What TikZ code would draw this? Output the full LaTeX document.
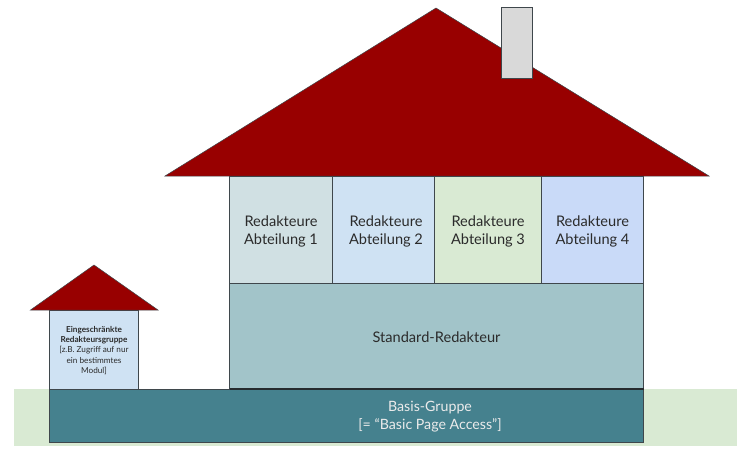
\documentclass[tikz,border=0pt]{standalone}
\usepackage{fontspec}
\setmainfont{Lato}
\definecolor{roof}{HTML}{980000}
\definecolor{edge}{HTML}{3F474C}
\definecolor{grass}{HTML}{D9EAD3}
\definecolor{basec}{HTML}{45818E}
\definecolor{stdc}{HTML}{A2C4C9}
\definecolor{ab1}{HTML}{D0E0E3}
\definecolor{ab2}{HTML}{CFE2F3}
\definecolor{ab4}{HTML}{C9DAF8}
\definecolor{chim}{HTML}{D9D9D9}
\definecolor{txt}{HTML}{2B2B2B}
\tikzset{
  part/.style={draw=edge,line width=0.9pt},
  roofshape/.style={fill=roof,draw=edge,line width=0.5pt,line join=miter},
  lab/.style={text=txt,align=center,font=\fontsize{14.6}{18}\selectfont},
  small/.style={text=txt,align=center,font=\fontsize{8.2}{10.2}\selectfont},
}
\begin{document}
\begin{tikzpicture}[x=1pt,y=-1pt]
\useasboundingbox (0,0) rectangle (752,463);
\fill[grass] (14,389) rectangle (737,446);
\filldraw[part,fill=ab2] (49.7,310) rectangle (138.5,389);
\filldraw[roofshape] (30.5,310) -- (94,265) -- (158,310) -- cycle;
\filldraw[roofshape] (165,176) -- (436,8) -- (709,176) -- cycle;
\filldraw[part,fill=chim] (501.5,7.5) rectangle (532,78);
\filldraw[part,fill=ab1] (229.7,176) rectangle (332,283);
\filldraw[part,fill=ab2] (332,176) rectangle (434.5,283);
\filldraw[part,fill=grass] (434.5,176) rectangle (541,283);
\filldraw[part,fill=ab4] (541,176) rectangle (643.5,283);
\filldraw[part,fill=stdc] (229.7,283) rectangle (643.5,388.5);
\filldraw[part,fill=basec] (49.7,389.5) rectangle (643.5,442);
\draw[edge!60!black,line width=1.2pt] (229.7,389) -- (643.5,389);
\node[lab] (a1) at (281,231) {Redakteure\\Abteilung 1};
\node[lab] (a2) at (386,231) {Redakteure\\Abteilung 2};
\node[lab] (a3) at (488,231) {Redakteure\\Abteilung 3};
\node[lab] (a4) at (592.5,231) {Redakteure\\Abteilung 4};
\node[lab] (std) at (436.5,337.5) {Standard-Redakteur};
\node[lab,text=white!92!black,font=\fontsize{14.2}{18}\selectfont] (basis) at (430,417) {Basis-Gruppe\\{}[= “Basic Page Access”]};
\node[small] (eg) at (94,350.5) {\textbf{Eingeschränkte}\\\textbf{Redakteursgruppe}\\{}[z.B. Zugriff auf nur\\ein bestimmtes\\Modul]};
\end{tikzpicture}
\end{document}
